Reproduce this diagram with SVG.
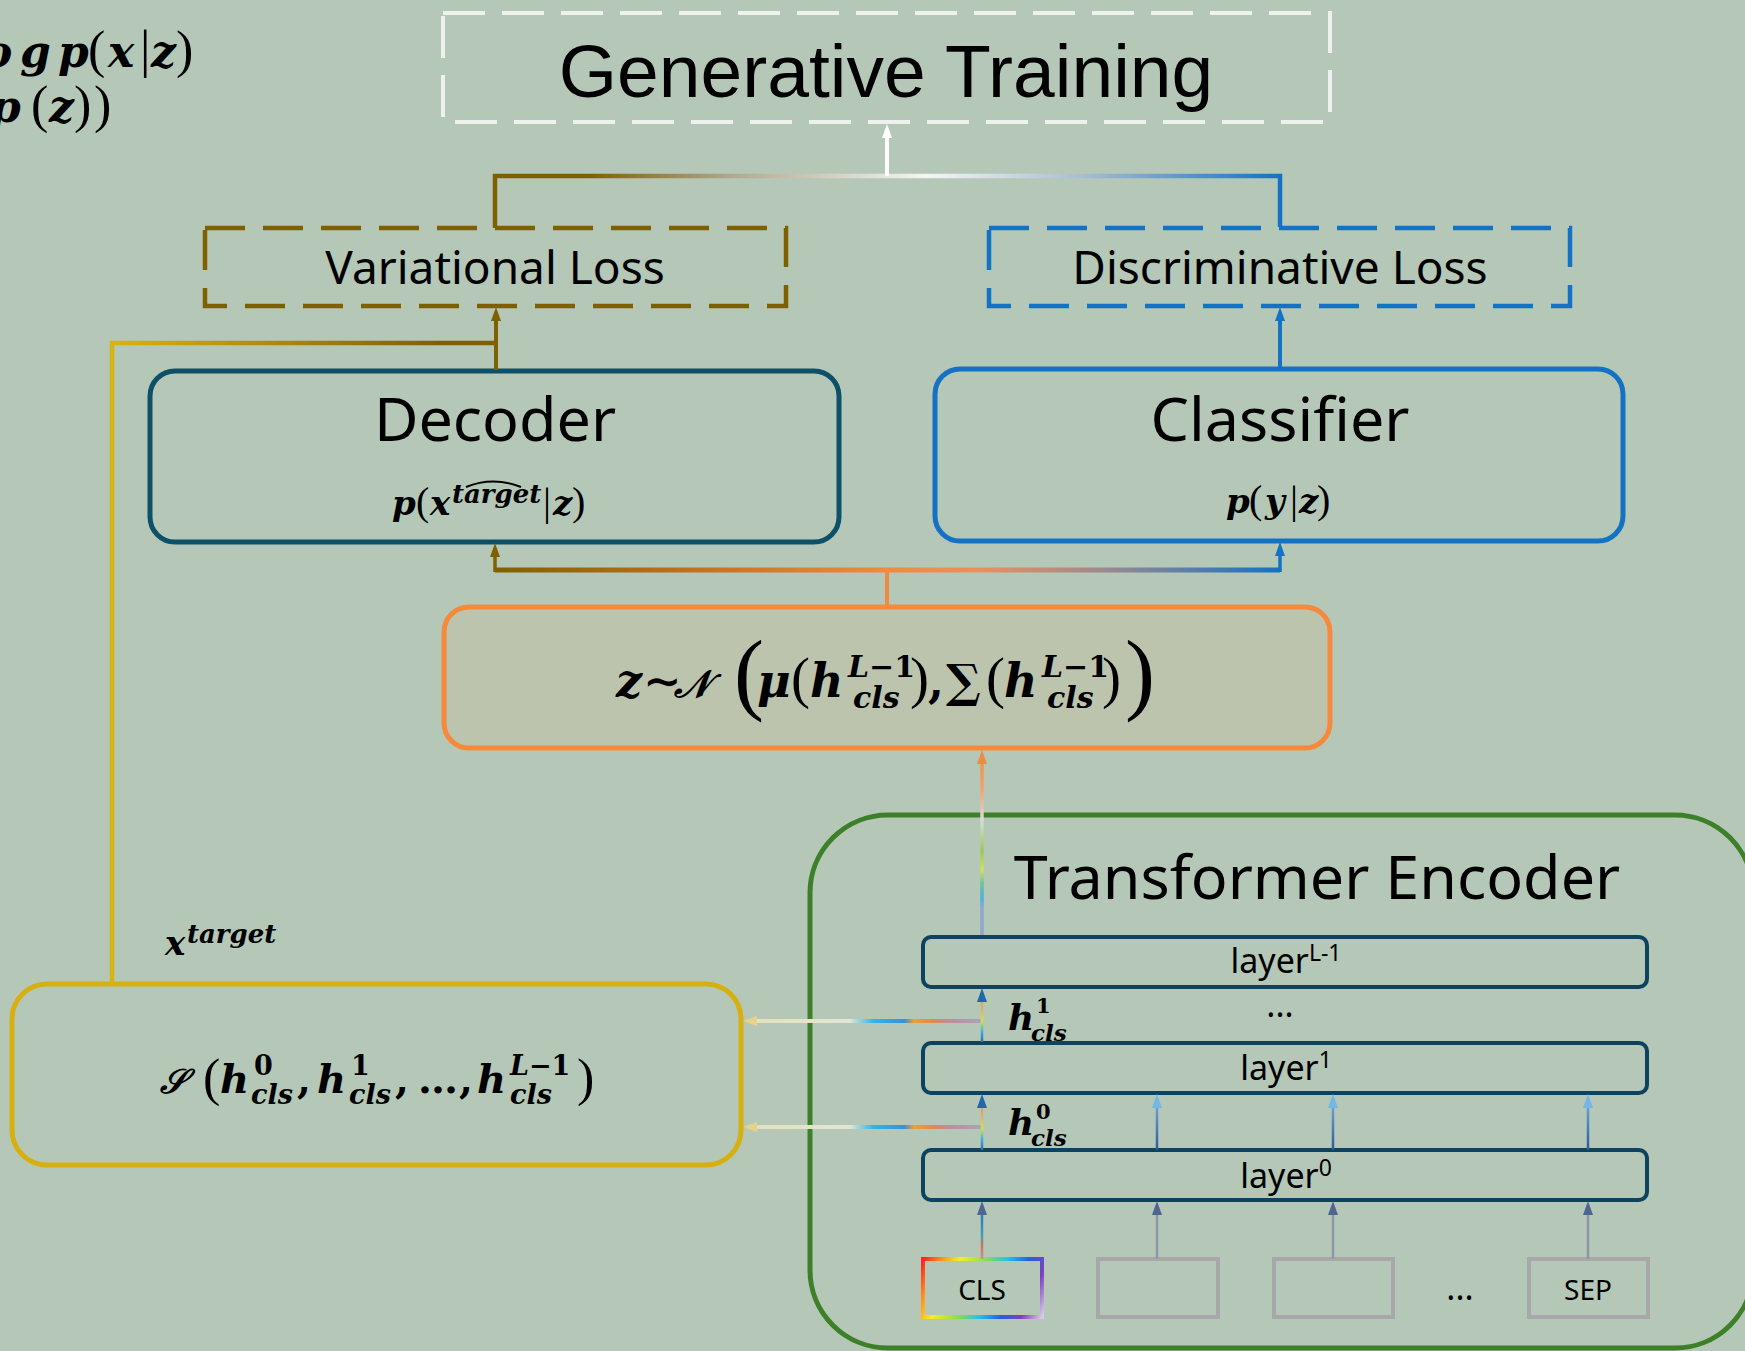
<svg xmlns="http://www.w3.org/2000/svg" width="1745" height="1351" viewBox="0 0 1745 1351">
<style>
.sans{font-family:"Noto Sans","Open Sans","DejaVu Sans",sans-serif;fill:#000}
.arial{font-family:"Liberation Sans",Arial,sans-serif;fill:#000}
.m{font-family:"DejaVu Serif","Liberation Serif",serif;font-weight:bold;font-style:italic;fill:#000}
.p{font-family:"Liberation Serif","DejaVu Serif",serif;font-weight:normal;font-style:normal}
.d{font-style:normal;font-weight:bold}
.u{font-style:normal}
.box{fill:none}
.lay{fill:none;stroke:#0e4360;stroke-width:4}
.tok{fill:none;stroke:#a8a8a8;stroke-width:4}
.thin{fill:none;stroke-width:2.5}
</style>
<defs>
<marker id="aWhite" viewBox="0 0 14 10" refX="1" refY="5" markerWidth="14" markerHeight="10" markerUnits="userSpaceOnUse" orient="auto"><path d="M0,0 L14,5 L0,10 z" fill="#ffffff"/></marker>
<marker id="aBrown" viewBox="0 0 14 10" refX="1" refY="5" markerWidth="14" markerHeight="10" markerUnits="userSpaceOnUse" orient="auto"><path d="M0,0 L14,5 L0,10 z" fill="#7f6000"/></marker>
<marker id="aBlue" viewBox="0 0 14 10" refX="1" refY="5" markerWidth="14" markerHeight="10" markerUnits="userSpaceOnUse" orient="auto"><path d="M0,0 L14,5 L0,10 z" fill="#1472c4"/></marker>
<marker id="aOrange" viewBox="0 0 14 10" refX="1" refY="5" markerWidth="14" markerHeight="10" markerUnits="userSpaceOnUse" orient="auto"><path d="M0,0 L14,5 L0,10 z" fill="#f08a40"/></marker>
<marker id="aYel" viewBox="0 0 14 10" refX="1" refY="5" markerWidth="14" markerHeight="10" markerUnits="userSpaceOnUse" orient="auto"><path d="M0,0 L14,5 L0,10 z" fill="#e6d28a"/></marker>
<marker id="aDk" viewBox="0 0 14 10" refX="1" refY="5" markerWidth="14" markerHeight="10" markerUnits="userSpaceOnUse" orient="auto"><path d="M0,0 L14,5 L0,10 z" fill="#1f68b0"/></marker>
<marker id="aLt" viewBox="0 0 14 10" refX="1" refY="5" markerWidth="14" markerHeight="10" markerUnits="userSpaceOnUse" orient="auto"><path d="M0,0 L14,5 L0,10 z" fill="#74b6e6"/></marker>
<marker id="aGb" viewBox="0 0 14 10" refX="1" refY="5" markerWidth="14" markerHeight="10" markerUnits="userSpaceOnUse" orient="auto"><path d="M0,0 L14,5 L0,10 z" fill="#4f6590"/></marker>

<linearGradient id="gTop" gradientUnits="userSpaceOnUse" x1="495" y1="0" x2="1280" y2="0">
<stop offset="0" stop-color="#7f6000"/><stop offset="0.12" stop-color="#7f6000"/><stop offset="0.3" stop-color="#b0a890"/><stop offset="0.55" stop-color="#f4f6f2"/><stop offset="0.75" stop-color="#a8bcd0"/><stop offset="1" stop-color="#1472c4"/></linearGradient>
<linearGradient id="gVar" gradientUnits="userSpaceOnUse" x1="112" y1="0" x2="440" y2="0">
<stop offset="0" stop-color="#d6b412"/><stop offset="1" stop-color="#7f6000"/></linearGradient>
<linearGradient id="gZ" gradientUnits="userSpaceOnUse" x1="495" y1="0" x2="1280" y2="0">
<stop offset="0" stop-color="#7f6000"/><stop offset="0.25" stop-color="#c07020"/><stop offset="0.5" stop-color="#f08a40"/><stop offset="0.62" stop-color="#e89060"/><stop offset="0.78" stop-color="#9a8890"/><stop offset="1" stop-color="#1472c4"/></linearGradient>
<linearGradient id="gH" gradientUnits="userSpaceOnUse" x1="742" y1="0" x2="981" y2="0">
<stop offset="0" stop-color="#e6e0b8"/><stop offset="0.45" stop-color="#e2e6d6"/><stop offset="0.55" stop-color="#30b4ea"/><stop offset="0.68" stop-color="#3a90d8"/><stop offset="0.72" stop-color="#f0a030"/><stop offset="0.8" stop-color="#e08850"/><stop offset="0.86" stop-color="#c08c98"/><stop offset="1" stop-color="#a6a4bc"/></linearGradient>
<linearGradient id="gUp" gradientUnits="userSpaceOnUse" x1="0" y1="935" x2="0" y2="750">
<stop offset="0" stop-color="#92a8c8"/><stop offset="0.15" stop-color="#8aa8d0"/><stop offset="0.2" stop-color="#48b0e0"/><stop offset="0.28" stop-color="#70c0a0"/><stop offset="0.35" stop-color="#d4e060"/><stop offset="0.45" stop-color="#98c860"/><stop offset="0.62" stop-color="#d8dcd4"/><stop offset="0.8" stop-color="#f0a070"/><stop offset="1" stop-color="#f08a40"/></linearGradient>
<linearGradient id="gC1" gradientUnits="userSpaceOnUse" x1="0" y1="1150" x2="0" y2="1093">
<stop offset="0" stop-color="#1e70c0"/><stop offset="0.2" stop-color="#40b0e0"/><stop offset="0.38" stop-color="#e0e040"/><stop offset="0.55" stop-color="#d8b870"/><stop offset="0.8" stop-color="#d89a70"/><stop offset="1" stop-color="#909090"/></linearGradient>
<linearGradient id="gC2" gradientUnits="userSpaceOnUse" x1="0" y1="1042" x2="0" y2="987">
<stop offset="0" stop-color="#1e70c0"/><stop offset="0.2" stop-color="#40b0e0"/><stop offset="0.38" stop-color="#e0e040"/><stop offset="0.55" stop-color="#d8b870"/><stop offset="0.8" stop-color="#d89a70"/><stop offset="1" stop-color="#909090"/></linearGradient>
<linearGradient id="gC0" gradientUnits="userSpaceOnUse" x1="0" y1="1259" x2="0" y2="1200">
<stop offset="0" stop-color="#a0a0a8"/><stop offset="0.2" stop-color="#e07050"/><stop offset="0.4" stop-color="#40a0b0"/><stop offset="0.65" stop-color="#3080c0"/><stop offset="1" stop-color="#4a70a8"/></linearGradient>
<linearGradient id="gL" gradientUnits="userSpaceOnUse" x1="0" y1="1150" x2="0" y2="1093">
<stop offset="0" stop-color="#2a5a9a"/><stop offset="1" stop-color="#78b8e6"/></linearGradient>
<linearGradient id="gCLS" gradientUnits="userSpaceOnUse" x1="923" y1="1259" x2="1042" y2="1317">
<stop offset="0" stop-color="#ff2020"/><stop offset="0.12" stop-color="#ff8c20"/><stop offset="0.25" stop-color="#f4f020"/><stop offset="0.42" stop-color="#90e040"/><stop offset="0.58" stop-color="#20c0f0"/><stop offset="0.72" stop-color="#2060e0"/><stop offset="0.86" stop-color="#8040c0"/><stop offset="1" stop-color="#d8c8e8"/></linearGradient>
</defs>

<rect x="0" y="0" width="1745" height="1351" fill="#b5c8b8"/>

<g id="elbo">
<text class="m" font-size="44">
<tspan x="-17" y="67">o</tspan><tspan x="20" y="67">g</tspan><tspan x="58" y="67">p</tspan><tspan class="p" x="88" y="67" font-size="52">(</tspan><tspan x="108" y="67">x</tspan><tspan class="p" x="140" y="67" font-size="52">|</tspan><tspan x="151" y="67">z</tspan><tspan class="p" x="176" y="67" font-size="52">)</tspan>
<tspan x="-10" y="122">p</tspan><tspan class="p" x="31" y="122" font-size="52">(</tspan><tspan x="49" y="122">z</tspan><tspan class="p" x="74" y="122" font-size="52">)</tspan><tspan class="p" x="94" y="122" font-size="52">)</tspan>
</text>
</g>

<g id="generative-training">
<rect x="443" y="13" width="887" height="109" class="box" stroke="#eef2ee" stroke-width="4" stroke-dasharray="42 17"/>
<text class="arial" x="886" y="97" font-size="75" text-anchor="middle">Generative Training</text>
</g>

<g id="variational-loss">
<rect x="205" y="228" width="581" height="78" class="box" stroke="#7f6000" stroke-width="4.5" stroke-dasharray="40 18"/>
<text class="sans" x="495" y="284" font-size="46" text-anchor="middle">Variational Loss</text>
</g>

<g id="discriminative-loss">
<rect x="989" y="228" width="581" height="78" class="box" stroke="#1472c4" stroke-width="4.5" stroke-dasharray="40 18"/>
<text class="sans" x="1280" y="284" font-size="46" text-anchor="middle">Discriminative Loss</text>
</g>

<g id="decoder">
<rect x="150" y="371" width="689" height="171" rx="25" class="box" stroke="#0d5068" stroke-width="5"/>
<text class="sans" x="495" y="441" font-size="61" text-anchor="middle">Decoder</text>
<text class="m" font-size="34"><tspan x="392" y="515">p</tspan><tspan class="p" x="416" y="515" font-size="40">(</tspan><tspan x="430" y="515">x</tspan><tspan x="452" y="503" font-size="26">target</tspan><tspan class="p" x="543" y="515" font-size="40">|</tspan><tspan x="553" y="515">z</tspan><tspan class="p" x="572" y="515" font-size="40">)</tspan></text>
<path d="M466,487 Q493,476 521,487" fill="none" stroke="#000" stroke-width="2"/>
</g>

<g id="classifier">
<rect x="935" y="369" width="688" height="172" rx="25" class="box" stroke="#1472c4" stroke-width="5"/>
<text class="sans" x="1280" y="441" font-size="61" text-anchor="middle">Classifier</text>
<text class="m" font-size="34"><tspan x="1226" y="513">p</tspan><tspan class="p" x="1249" y="513" font-size="40">(</tspan><tspan x="1265" y="513">y</tspan><tspan class="p" x="1290" y="513" font-size="40">|</tspan><tspan x="1299" y="513">z</tspan><tspan class="p" x="1317" y="513" font-size="40">)</tspan></text>
</g>

<g id="latent-z">
<rect x="444" y="607" width="886" height="141" rx="25" fill="#bdc4ae" stroke="#f5893c" stroke-width="5"/>
<text class="m" font-size="46">
<tspan x="616" y="697">z</tspan><tspan class="u" x="643" y="697">∼</tspan><tspan x="674" y="697" font-size="38">𝒩</tspan><tspan class="p" x="734" y="703" font-size="90">(</tspan><tspan x="757" y="697">μ</tspan><tspan class="p" x="791" y="697" font-size="57">(</tspan><tspan x="810" y="697">h</tspan><tspan x="848" y="677" font-size="30">L</tspan><tspan class="d" font-size="30">−1</tspan><tspan x="853" y="708" font-size="30">cls</tspan><tspan class="p" x="910" y="697" font-size="57">)</tspan><tspan class="u" x="928" y="697">,</tspan><tspan class="u" x="946" y="697">∑</tspan><tspan class="p" x="986" y="697" font-size="57">(</tspan><tspan x="1004" y="697">h</tspan><tspan x="1042" y="677" font-size="30">L</tspan><tspan class="d" font-size="30">−1</tspan><tspan x="1047" y="708" font-size="30">cls</tspan><tspan class="p" x="1102" y="697" font-size="57">)</tspan><tspan class="p" x="1125" y="703" font-size="90">)</tspan>
</text>
</g>

<g id="aggregator">
<rect x="12" y="984" width="729" height="181" rx="35" class="box" stroke="#d6b010" stroke-width="5"/>
<text class="m" font-size="40">
<tspan x="160" y="1093" font-size="34">𝒮</tspan><tspan class="p" x="203" y="1095" font-size="52">(</tspan><tspan x="220" y="1093">h</tspan><tspan class="d" x="254" y="1075" font-size="27">0</tspan><tspan x="251" y="1104" font-size="27">cls</tspan><tspan class="u" x="297" y="1093">,</tspan><tspan x="317" y="1093">h</tspan><tspan class="d" x="351" y="1075" font-size="27">1</tspan><tspan x="349" y="1104" font-size="27">cls</tspan><tspan class="u" x="395" y="1093">,</tspan><tspan class="u" x="418" y="1093">…</tspan><tspan class="u" x="459" y="1093">,</tspan><tspan x="477" y="1093">h</tspan><tspan x="510" y="1075" font-size="27">L</tspan><tspan class="d" font-size="27">−1</tspan><tspan x="510" y="1104" font-size="27">cls</tspan><tspan class="p" x="577" y="1095" font-size="52">)</tspan>
</text>
</g>

<g id="x-target-label">
<text class="m" font-size="34"><tspan x="165" y="955">x</tspan><tspan x="187" y="943" font-size="26">target</tspan></text>
</g>

<g id="transformer-encoder">
<rect x="810" y="815" width="943" height="533" rx="78" class="box" stroke="#3e7f2a" stroke-width="5"/>
<text class="sans" x="1317" y="899" font-size="61" text-anchor="middle">Transformer Encoder</text>
</g>

<g id="layer-L-1">
<rect x="923" y="937" width="724" height="50" rx="8" class="lay"/>
<text class="sans" x="1286" y="973" font-size="34" text-anchor="middle">layer<tspan dy="-12" font-size="23">L-1</tspan></text>
</g>
<g id="layer-1">
<rect x="923" y="1043" width="724" height="50" rx="8" class="lay"/>
<text class="sans" x="1286" y="1080" font-size="34" text-anchor="middle">layer<tspan dy="-12" font-size="23">1</tspan></text>
</g>
<g id="layer-0">
<rect x="923" y="1150" width="724" height="50" rx="8" class="lay"/>
<text class="sans" x="1286" y="1188" font-size="34" text-anchor="middle">layer<tspan dy="-12" font-size="23">0</tspan></text>
</g>
<text class="sans" x="1280" y="1017" font-size="34" text-anchor="middle">...</text>

<g id="h1-label">
<text class="m" font-size="36"><tspan x="1008" y="1030">h</tspan><tspan class="d" x="1036" y="1013" font-size="21">1</tspan><tspan x="1031" y="1041" font-size="23">cls</tspan></text>
</g>
<g id="h0-label">
<text class="m" font-size="36"><tspan x="1008" y="1135">h</tspan><tspan class="d" x="1036" y="1119" font-size="21">0</tspan><tspan x="1031" y="1146" font-size="23">cls</tspan></text>
</g>

<g id="token-cls">
<rect x="923" y="1259" width="119" height="58" fill="none" stroke="url(#gCLS)" stroke-width="4"/>
<text class="sans" x="982" y="1300" font-size="28" text-anchor="middle">CLS</text>
</g>
<g id="token-2"><rect x="1098" y="1259" width="120" height="58" class="tok"/></g>
<g id="token-3"><rect x="1274" y="1259" width="119" height="58" class="tok"/></g>
<text class="sans" x="1460" y="1300" font-size="34" text-anchor="middle">...</text>
<g id="token-sep">
<rect x="1529" y="1259" width="119" height="58" class="tok"/>
<text class="sans" x="1588" y="1300" font-size="28" text-anchor="middle">SEP</text>
</g>

<g id="connectors">
<path d="M495,228 V176 H1280 V227" fill="none" stroke="url(#gTop)" stroke-width="4.5"/>
<path d="M887,176 V137" fill="none" stroke="#ffffff" stroke-width="4" marker-end="url(#aWhite)"/>
<path d="M496,370 V320" fill="none" stroke="#7f6000" stroke-width="4" marker-end="url(#aBrown)"/>
<path d="M112,983 V343 H496" fill="none" stroke="url(#gVar)" stroke-width="4.5"/>
<path d="M1280,368 V320" fill="none" stroke="#1472c4" stroke-width="4" marker-end="url(#aBlue)"/>
<path d="M887,607 V570" fill="none" stroke="#f08a40" stroke-width="4"/>
<path d="M495,570 H1280" fill="none" stroke="url(#gZ)" stroke-width="5"/>
<path d="M495,572 V556" fill="none" stroke="#7f6000" stroke-width="3.5" marker-end="url(#aBrown)"/>
<path d="M1280,572 V555" fill="none" stroke="#1472c4" stroke-width="3.5" marker-end="url(#aBlue)"/>
<path d="M982,935 V763" fill="none" stroke="url(#gUp)" stroke-width="3.5" marker-end="url(#aOrange)"/>
<path d="M981,1021 H756" fill="none" stroke="url(#gH)" stroke-width="4" marker-end="url(#aYel)"/>
<path d="M981,1127 H756" fill="none" stroke="url(#gH)" stroke-width="4" marker-end="url(#aYel)"/>
<path d="M982,1042 V1001" fill="none" stroke="url(#gC2)" stroke-width="2.5" marker-end="url(#aDk)"/>
<path d="M982,1150 V1107" fill="none" stroke="url(#gC1)" stroke-width="2.5" marker-end="url(#aDk)"/>
<path d="M982,1259 V1214" fill="none" stroke="url(#gC0)" stroke-width="2.5" marker-end="url(#aGb)"/>
<path d="M1157,1150 V1107" class="thin" stroke="url(#gL)" marker-end="url(#aLt)"/>
<path d="M1333,1150 V1107" class="thin" stroke="url(#gL)" marker-end="url(#aLt)"/>
<path d="M1588,1150 V1107" class="thin" stroke="url(#gL)" marker-end="url(#aLt)"/>
<path d="M1157,1259 V1214" class="thin" stroke="#8c96a6" marker-end="url(#aGb)"/>
<path d="M1333,1259 V1214" class="thin" stroke="#8c96a6" marker-end="url(#aGb)"/>
<path d="M1588,1259 V1214" class="thin" stroke="#8c96a6" marker-end="url(#aGb)"/>
</g>
</svg>
